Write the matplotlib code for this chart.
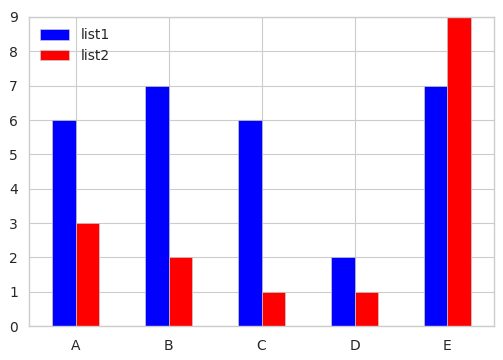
import pandas as pd
import matplotlib
matplotlib.use("Agg")
import matplotlib.pyplot as plt

categories = ["A", "B", "C", "D", "E"]
list1 = [6, 7, 6, 2, 7]
list2 = [3, 2, 1, 1, 9]

plt.style.use("seaborn-v0_8-whitegrid")
plt.rcParams["font.family"] = ["DejaVu Sans"]

df = pd.DataFrame({"list1": list1, "list2": list2}, index=categories)

fig, ax = plt.subplots(figsize=(5.03, 3.6), dpi=100)
df.plot(kind="bar", ax=ax, color=["blue", "red"], rot=0, edgecolor="#cccccc", linewidth=0.5)
ax.set_ylim(0, 9)
ax.legend(loc="upper left", fontsize=10, handlelength=2.1, handleheight=0.8,
          borderaxespad=0.4)
for s in ax.spines.values():
    s.set_visible(True)
    s.set_color("#cccccc")
ax.tick_params(labelsize=10, length=0)
ax.tick_params(axis="x", pad=9)
ax.tick_params(axis="y", pad=8)
fig.subplots_adjust(left=0.058, right=0.982, top=0.953, bottom=0.094)
fig.savefig("out.png", dpi=100)
